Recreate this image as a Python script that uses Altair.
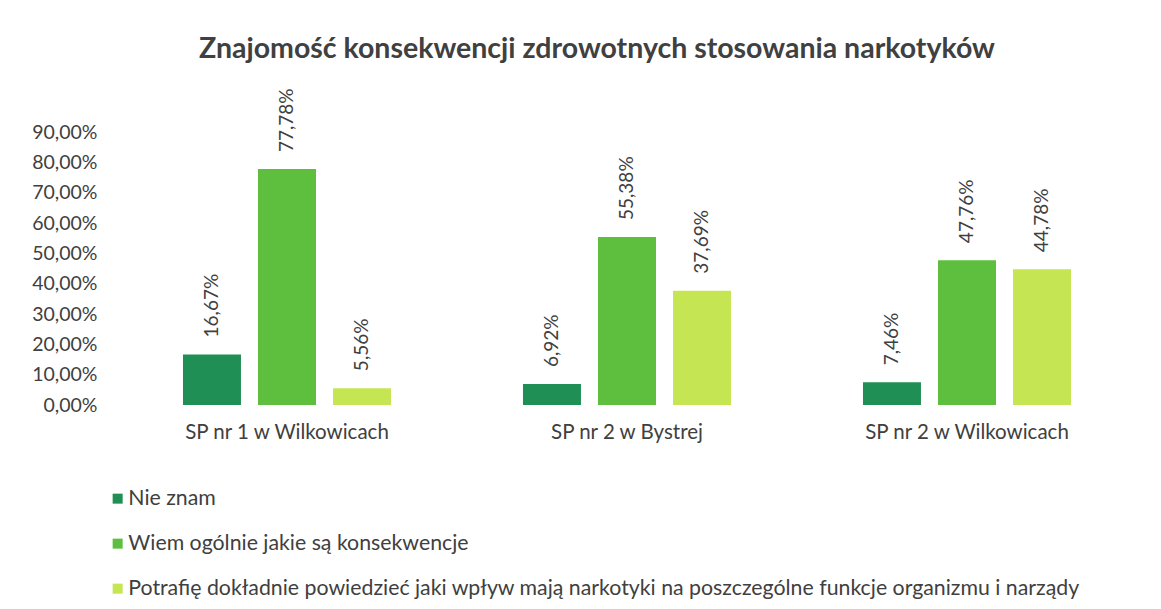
import altair as alt
import pandas as pd

schools = ["SP nr 1 w Wilkowicach", "SP nr 2 w Bystrej", "SP nr 2 w Wilkowicach"]
answers = [
    "Nie znam",
    "Wiem ogólnie jakie są konsekwencje",
    "Potrafię dokładnie powiedzieć jaki wpływ mają narkotyki na poszczególne funkcje organizmu i narządy",
]
values = {
    "Nie znam": [16.67, 6.92, 7.46],
    "Wiem ogólnie jakie są konsekwencje": [77.78, 55.38, 47.76],
    "Potrafię dokładnie powiedzieć jaki wpływ mają narkotyki na poszczególne funkcje organizmu i narządy": [5.56, 37.69, 44.78],
}
y_ticks = [0, 10, 20, 30, 40, 50, 60, 70, 80, 90]
colors = ["#1f8f55", "#5dbf3d", "#c6e552"]

rows = []
for a in answers:
    for s, v in zip(schools, values[a]):
        rows.append({"school": s, "answer": a, "value": v})
df = pd.DataFrame(rows)

FONT = "Lato"
TXT = "#404040"

x = alt.X("school:N", sort=schools, title=None,
          scale=alt.Scale(paddingInner=0.338, paddingOuter=0.169),
          axis=alt.Axis(labelAngle=0, labelFontSize=20.5, labelColor=TXT, labelFont=FONT,
                        labelLimit=500,
                        domain=False, ticks=False, labelPadding=17))
xo = alt.XOffset("answer:N", sort=answers,
                 scale=alt.Scale(paddingInner=0.227, paddingOuter=0.1135))
y = alt.Y("value:Q", title=None,
          scale=alt.Scale(domain=[0, 90], nice=False),
          axis=alt.Axis(values=y_ticks, tickCount=10,
                        labelExpr="replace(format(datum.value, '.2f'), '.', ',') + '%'",
                        labelFontSize=19.5, labelColor=TXT, labelFont=FONT,
                        labelOverlap=False,
                        domain=False, ticks=False, grid=False, labelPadding=20))

base = alt.Chart(df).encode(x=x, xOffset=xo, y=y)

bars = base.mark_bar().encode(
    color=alt.Color("answer:N", sort=answers,
                    scale=alt.Scale(domain=answers, range=colors),
                    legend=alt.Legend(title=None, orient="none", legendX=-10, legendY=356,
                                      direction="vertical", symbolType="square",
                                      symbolSize=100, symbolStrokeWidth=0,
                                      labelFontSize=21.3, labelColor=TXT, labelFont=FONT,
                                      rowPadding=23, labelLimit=1200, labelOffset=0)),
)

labels = base.transform_calculate(
    lab="replace(format(datum.value, '.2f'), '.', ',') + '%'"
).mark_text(angle=270, align="left", baseline="middle", dx=17,
            fontSize=19, color=TXT, font=FONT).encode(
    text="lab:N",
)

chart = (bars + labels).properties(
    width=1020, height=273,
    title=alt.TitleParams("Znajomość konsekwencji zdrowotnych stosowania narkotyków",
                          font=FONT, fontSize=28.5, fontWeight="bold", color=TXT,
                          anchor="middle", dx=-30, offset=25),
    padding={"left": 23, "top": 26, "right": 5, "bottom": 130},
    background="white",
).configure_view(stroke=None)

chart.save("out.html", embed_options={"renderer": "svg", "actions": False})
